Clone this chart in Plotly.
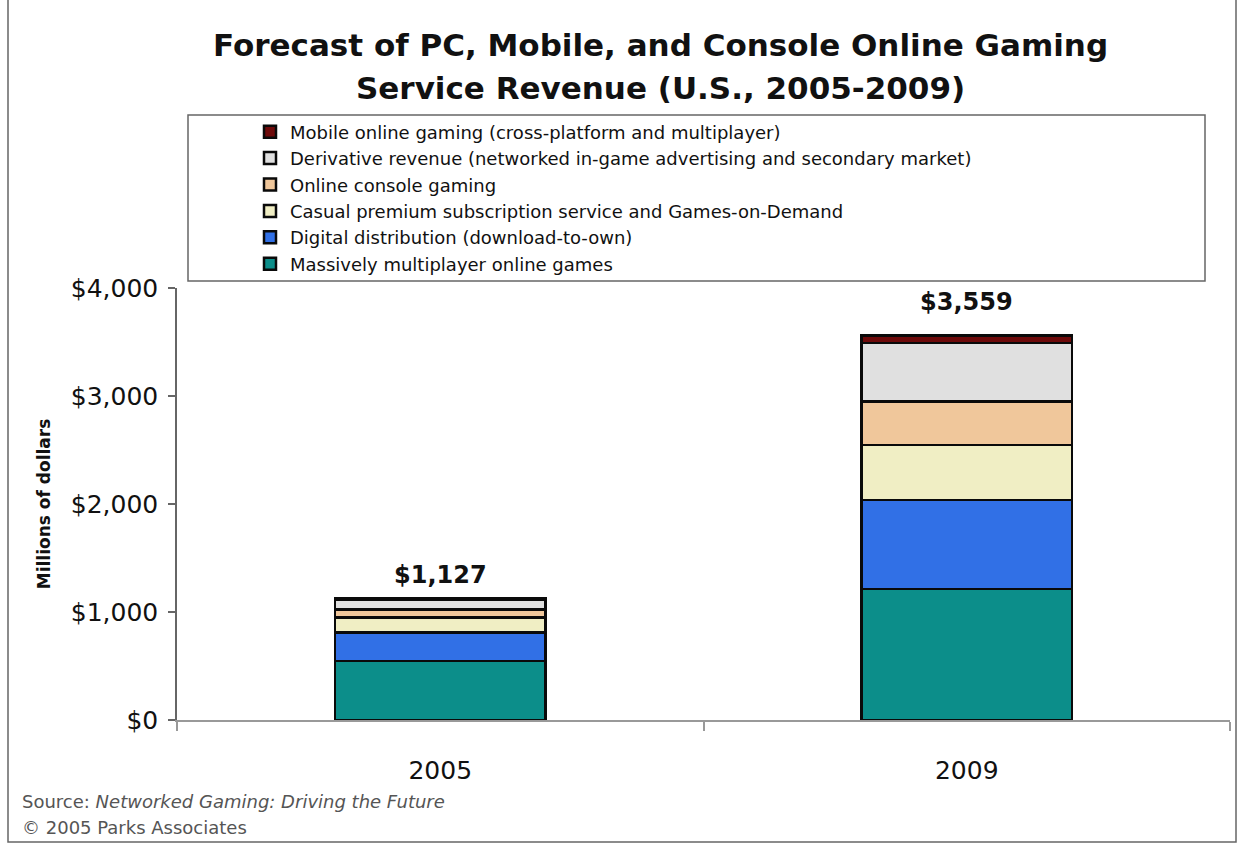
import plotly.graph_objects as go

# ---------------- data ----------------
years = ["2005", "2009"]
mmog = [545, 1213]
digital = [265, 824]
casual = [140, 509]
console = [75, 401]
derivative = [90, 542]
mobile = [12, 70]
totals = [1127, 3559]

series_names = [
    "Massively multiplayer online games",
    "Digital distribution (download-to-own)",
    "Casual premium subscription service and Games-on-Demand",
    "Online console gaming",
    "Derivative revenue (networked in-game advertising and secondary market)",
    "Mobile online gaming (cross-platform and multiplayer)",
]
series_values = [mmog, digital, casual, console, derivative, mobile]
series_colors = ["#0C8E8A", "#3170E6", "#F0EEC4", "#F0C79B", "#E0E0E0", "#6E0A0A"]

title_lines = ["Forecast of PC, Mobile, and Console Online Gaming",
               "Service Revenue (U.S., 2005-2009)"]

y_tickvals = [0, 1000, 2000, 3000, 4000]
y_ticktext = ["$0", "$1,000", "$2,000", "$3,000", "$4,000"]

# ---------------- layout helpers (pixel -> paper) ----------------
W, H = 1238, 844
L, R, T, B = 177, 8, 288, 124
PW, PH = W - L - R, H - T - B


def px(x):
    return (x - L) / PW


def py(y):
    return (H - B - y) / PH


FONT = "DejaVu Sans, Verdana, sans-serif"

fig = go.Figure()
for name, vals, col in zip(series_names, series_values, series_colors):
    fig.add_trace(go.Bar(
        x=years, y=vals, name=name,
        marker=dict(color=col, line=dict(color="#0a0a0a", width=2.5)),
    ))

label_shift = [7, 18]
for i, (tot, sh) in enumerate(zip(totals, label_shift)):
    # category axis: annotation x given as category index
    fig.add_annotation(
        x=i, y=tot, text="<b>$" + f"{tot:,}" + "</b>", showarrow=False,
        yanchor="bottom", yshift=sh, font=dict(family=FONT, size=24, color="#111"),
    )

# title (two centred lines)
for line, ypix in zip(title_lines, [45, 88]):
    fig.add_annotation(
        xref="paper", yref="paper", x=px(660), y=py(ypix), xanchor="center", yanchor="middle",
        text="<b>" + line + "</b>", showarrow=False,
        font=dict(family=FONT, size=31, color="#111"),
    )

# footer
fig.add_annotation(
    xref="paper", yref="paper", x=px(20), y=py(801), xanchor="left", yanchor="middle",
    text="Source: <i>Networked Gaming: Driving the Future</i>", showarrow=False,
    font=dict(family=FONT, size=18, color="#555"),
)
fig.add_annotation(
    xref="paper", yref="paper", x=px(20), y=py(827), xanchor="left", yanchor="middle",
    text="© 2005 Parks Associates", showarrow=False,
    font=dict(family=FONT, size=18, color="#555"),
)

# legend frame
fig.add_shape(type="rect", xref="paper", yref="paper",
              x0=px(188), x1=px(1205), y0=py(281), y1=py(115),
              line=dict(color="#666", width=1.5), fillcolor="rgba(0,0,0,0)", layer="below")
# outer frame
fig.add_shape(type="rect", xref="paper", yref="paper",
              x0=px(8), x1=px(1236), y0=py(842), y1=py(-20),
              line=dict(color="#666", width=1.5), fillcolor="rgba(0,0,0,0)", layer="below")

fig.update_layout(
    width=W, height=H,
    margin=dict(l=L, r=R, t=T, b=B),
    paper_bgcolor="white", plot_bgcolor="white",
    barmode="stack", bargap=0.6,
    font=dict(family=FONT, color="#111"),
    legend=dict(
        x=px(250), y=py(113.5), xanchor="left", yanchor="top",
        traceorder="reversed", bgcolor="rgba(0,0,0,0)", borderwidth=0,
        font=dict(family=FONT, size=18, color="#111"),
        tracegroupgap=0,
    ),
    xaxis=dict(
        type="category", range=[-0.5, 1.5],
        showline=True, linecolor="#999", linewidth=1.5,
        ticks="outside", tickson="boundaries", ticklen=9, tickcolor="#999", tickwidth=1.5,
        tickfont=dict(family=FONT, size=25, color="#111"),
        ticklabelstandoff=27,
        showgrid=False, fixedrange=True,
    ),
    yaxis=dict(
        range=[0, 4000], tickvals=y_tickvals, ticktext=y_ticktext,
        showline=True, linecolor="#666", linewidth=1.5,
        ticks="outside", ticklen=7, tickcolor="#666", tickwidth=1.5,
        tickfont=dict(family=FONT, size=25, color="#111"),
        ticklabelstandoff=5,
        showgrid=False, zeroline=False,
        title=dict(text="<b>Millions of dollars</b>", standoff=16,
                   font=dict(family=FONT, size=17, color="#111")),
    ),
    showlegend=True,
)

fig.write_html("out.html")
